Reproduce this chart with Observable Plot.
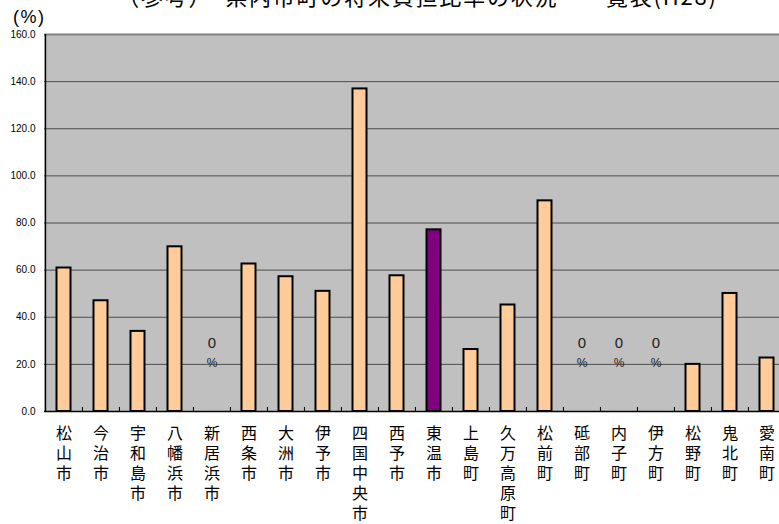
<!DOCTYPE html>
<html>
<head>
<meta charset="utf-8">
<script src="https://cdn.jsdelivr.net/npm/d3@7"></script>
<script src="https://cdn.jsdelivr.net/npm/@observablehq/plot@0.6"></script>
<style>
  html, body { margin: 0; padding: 0; background: #fff; overflow: hidden; }
  #wrap { position: relative; width: 779px; height: 524px; overflow: hidden; }
  #title { position: absolute; left: 28px; width: 779px; top: -16px; text-align: center;
    font-family: "Noto Sans CJK JP", sans-serif; font-size: 22px; line-height: 22px; letter-spacing: 1.8px; color: #000; white-space: nowrap; }
  #unit { position: absolute; left: 13px; top: 7px; font-family: "Liberation Sans", Arial, sans-serif;
    font-size: 18px; letter-spacing: 1.5px; color: #000; }
  #chart { position: absolute; left: 0; top: 0; }
</style>
</head>
<body>
<div id="wrap">
  <div id="chart"></div>
  <div id="title">（参考）　県内市町の将来負担比率の状況　一覧表(H28)</div>
  <div id="unit">(%)</div>
</div>
<script>
const categories = ["松山市","今治市","宇和島市","八幡浜市","新居浜市","西条市","大洲市","伊予市","四国中央市","西予市","東温市","上島町","久万高原町","松前町","砥部町","内子町","伊方町","松野町","鬼北町","愛南町"];
const values = [60.9, 47.0, 34.0, 69.9, 0, 62.6, 57.2, 51.0, 136.9, 57.6, 77.1, 26.3, 45.2, 89.4, 0, 0, 0, 20.0, 50.1, 22.7];
const highlight = "東温市";
const yTicks = [0, 20, 40, 60, 80, 100, 120, 140, 160];

const data = categories.map((c, i) => ({name: c, value: values[i]}));
const zeros = data.filter(d => d.value === 0);

const W = 779, H = 524;
const xRange = [44, 786];
const step = (xRange[1] - xRange[0]) / categories.length;

const chart = Plot.plot({
  width: W, height: H,
  marginTop: 34, marginBottom: 113, marginLeft: 44, marginRight: 0,
  style: {background: "transparent", overflow: "visible"},
  x: {domain: categories, range: xRange, padding: 0},
  y: {domain: [0, 160], ticks: yTicks},
  marks: [
    Plot.frame({fill: "#c0c0c0", stroke: null}),
    Plot.ruleY(yTicks.slice(1, -1), {stroke: "#4d4d4d", strokeWidth: 1}),
    Plot.ruleY([160], {stroke: "#808080", strokeWidth: 2}),
    Plot.barY(data, {x: "name", y: "value", fill: d => d.name === highlight ? "#800080" : "#ffcc99",
      stroke: "#000", strokeWidth: 2, insetLeft: 11.5, insetRight: 11.5, filter: d => d.value > 0}),
    Plot.text(zeros, {x: "name", y: 29, text: () => "0", fontSize: 15, fill: "#222", fontFamily: "Liberation Sans, Arial, sans-serif"}),
    Plot.text(zeros, {x: "name", y: 20.5, text: () => "%", fontSize: 12, fill: "#222", fontFamily: "Liberation Sans, Arial, sans-serif"}),
    Plot.ruleX(categories.slice(1), {x: d => d, dx: -step / 2, y1: 0, y2: 1.7, stroke: "#000", strokeWidth: 1}),
    Plot.ruleX([categories[0]], {x: d => d, dx: -step / 2, y1: 0, y2: 160, stroke: "#000", strokeWidth: 1.5}),
    Plot.ruleY([0], {stroke: "#000", strokeWidth: 1.5}),
    Plot.axisY({ticks: yTicks, tickFormat: d3.format(".1f"), tickSize: 0, tickPadding: 9, fontSize: 10,
      fontFamily: "Liberation Sans, Arial, sans-serif", label: null}),
    Plot.axisX({tickSize: 0, tickPadding: 13, tickFormat: d => d.split("").join("\n"), fontSize: 16,
      lineHeight: 1.25, lineAnchor: "top", fontFamily: "Noto Sans CJK JP, sans-serif", label: null})
  ]
});
document.getElementById("chart").appendChild(chart);
</script>
</body>
</html>
